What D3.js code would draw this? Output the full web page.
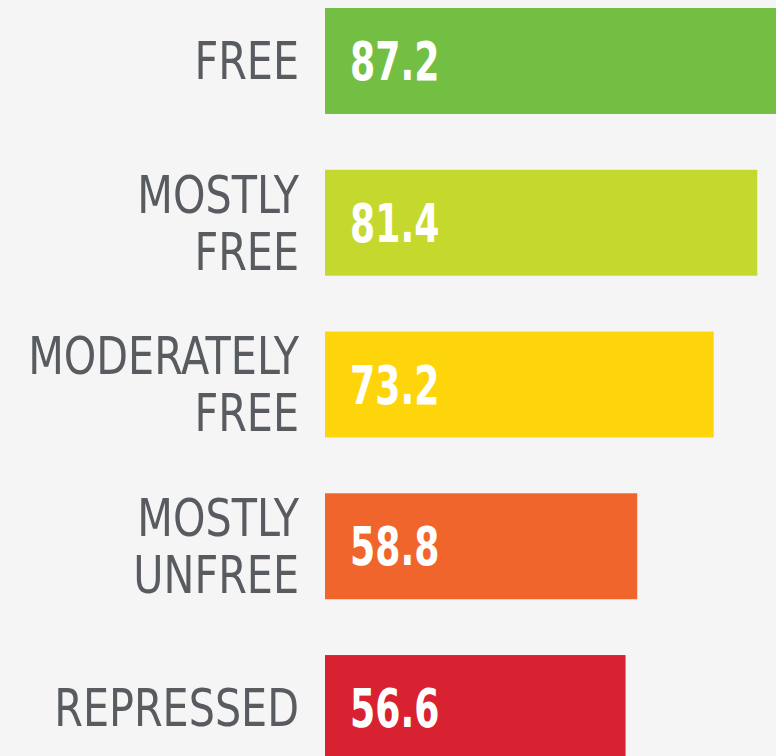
<!DOCTYPE html>
<html>
<head>
<meta charset="utf-8">
<script src="https://cdnjs.cloudflare.com/ajax/libs/d3/7.8.5/d3.min.js"></script>
<style>
  body { margin: 0; background: #f5f5f5; overflow: hidden; }
  svg { display: block; }
</style>
</head>
<body>
<script>
const categories = ['FREE', 'MOSTLY FREE', 'MODERATELY FREE', 'MOSTLY UNFREE', 'REPRESSED'];
const labelLines = [['FREE'], ['MOSTLY', 'FREE'], ['MODERATELY', 'FREE'], ['MOSTLY', 'UNFREE'], ['REPRESSED']];
const scores = [87.2, 81.4, 73.2, 58.8, 56.6];
const colors = ['#72bf44', '#c5d82e', '#fed40b', '#f0652b', '#d92231'];

const width = 776;
const height = 756;

const data = categories.map((c, i) => ({ name: c, lines: labelLines[i], value: scores[i], color: colors[i] }));

const svg = d3.select('body')
    .append('svg')
    .attr('width', width)
    .attr('height', height);

const x = d3.scaleLinear()
    .domain([0, 100])
    .range([325, 856]);

const y = d3.scaleBand()
    .domain(categories)
    .range([8, 761])
    .paddingInner(0.345)
    .paddingOuter(0);

svg.selectAll('rect')
    .data(data)
    .enter()
    .append('rect')
    .attr('x', x(0))
    .attr('y', d => y(d.name))
    .attr('width', d => x(d.value) - x(0))
    .attr('height', y.bandwidth())
    .style('fill', d => d.color);

// value labels inside the bars (squeezed to look like a condensed face)
svg.append('g')
    .attr('transform', 'translate(' + (x(0) + 25) + ',0) scale(0.76,1)')
    .selectAll('text')
    .data(data)
    .enter()
    .append('text')
    .attr('x', 0)
    .attr('y', d => y(d.name) + y.bandwidth() / 2)
    .attr('dy', '0.36em')
    .style('font-family', '"DejaVu Sans Condensed", "DejaVu Sans"')
    .style('font-weight', 'bold')
    .style('font-size', '53px')
    .style('fill', '#fff')
    .text(d => d.value.toFixed(1));

// category labels, right aligned
const lineH = 57;
const labels = svg.append('g')
    .attr('transform', 'translate(299,0) scale(0.9,1)')
    .selectAll('text')
    .data(data)
    .enter()
    .append('text')
    .attr('text-anchor', 'end')
    .style('font-family', '"DejaVu Sans Condensed", "DejaVu Sans"')
    .style('font-size', '51px')
    .style('fill', '#585b5f');

labels.selectAll('tspan')
    .data(d => d.lines.map((l, i) => ({ l, i, n: d.lines.length, mid: y(d.name) + y.bandwidth() / 2 })))
    .enter()
    .append('tspan')
    .attr('x', 0)
    .attr('y', t => t.mid + (t.i - (t.n - 1) / 2) * lineH)
    .attr('dy', '0.36em')
    .text(t => t.l);
</script>
</body>
</html>
